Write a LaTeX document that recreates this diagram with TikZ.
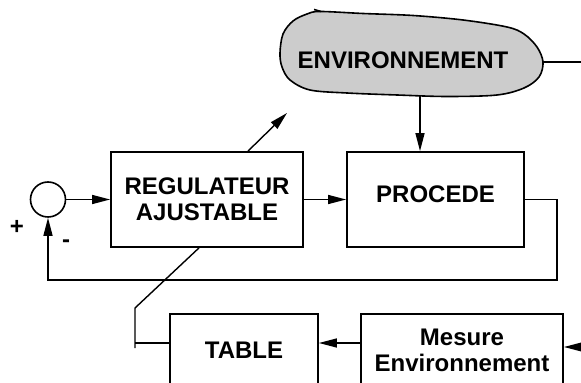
\documentclass[tikz,border=0pt]{standalone}
\usepackage{fontspec}
\setmainfont{Liberation Sans}
\usepackage{tikz}
\usetikzlibrary{arrows.meta,positioning,calc}

\begin{document}
\begin{tikzpicture}[
    x=0.5pt, y=-0.5pt,
    every node/.style={font=\bfseries\fontsize{12}{13}\selectfont},
    bloc/.style={draw, line width=0.9pt, inner sep=0pt, align=center},
    somme/.style={draw, circle, line width=0.8pt, minimum size=17.5pt, inner sep=0pt},
    nuage/.style={draw, line width=0.8pt, fill=black!20},
    fleche/.style={-{Triangle[length=9pt,width=4.5pt]}, line width=0.7pt},
    ligne/.style={line width=0.7pt}
]
\useasboundingbox (0,0) rectangle (581,383);
\clip (0,0) rectangle (581,383);

% Environment cloud
\draw[nuage] plot[smooth cycle, tension=0.55] coordinates {
    (320,11.5) (363,13.5) (413,15.5) (463,20) (507,27) (524,34) (537,47)
    (543,62) (539,77) (524,88) (497,95) (447,96.5) (397,95) (347,93)
    (310,90) (290,80) (282,67) (280,53) (283,34) (293,21) (307,14)};
\draw[line width=0.8pt] (314,9.5) -- (321,11.5);
\node (env) at (403,60) {ENVIRONNEMENT};
\coordinate (env-s) at (420,96.5);
\coordinate (env-e) at (543,62);
\coordinate (env-out) at (581,62);

% Blocks
\node[somme] (sum) at (48,199.5) {};
\node[bloc, minimum width=96pt, minimum height=47.5pt] (reg) at (207,199.5) {REGULATEUR\\AJUSTABLE};
\node[bloc, minimum width=88.5pt, minimum height=47.5pt, text depth=5pt] (proc) at (435.5,199.5) {PROCEDE};
\node[bloc, minimum width=74pt, minimum height=36pt] (table) at (244,350) {TABLE};
\node[bloc, minimum width=101pt, minimum height=36pt] (mes) at (462,350) {Mesure\\Environnement};

% Signs
\node (plus) at (17,227) {+};
\node (moins) at (66,244) {-};

% Main chain
\draw[fleche] (sum) -- (reg);
\draw[fleche] (reg) -- (proc);
\draw[fleche] (env-s) -- (env-s |- proc.north);
\draw[ligne] (env-e) -- (env-out);

% Feedback
\coordinate (fb) at (557,280);
\draw[fleche] (proc.east) -- (fb |- proc.east) -- (fb) -| (sum.south);

% Adaptation
\coordinate (adj) at (287,113);
\draw[fleche] ([xshift=20.5pt]reg.north) -- (adj);
\coordinate (coude) at (135,308);
\coordinate (tab-in) at (135,343);
\draw[ligne] ([xshift=-4pt]reg.south) -- (coude) -- (135,348);
\draw[ligne] (tab-in) -- (tab-in -| table.west);

% Measurement
\coordinate (mes-in) at (581,347);
\draw[fleche] ([yshift=3.5pt]mes.west) -- ([yshift=3.5pt]table.east);
\draw[fleche] (mes-in) -- (mes-in -| mes.east);

\end{tikzpicture}
\end{document}
